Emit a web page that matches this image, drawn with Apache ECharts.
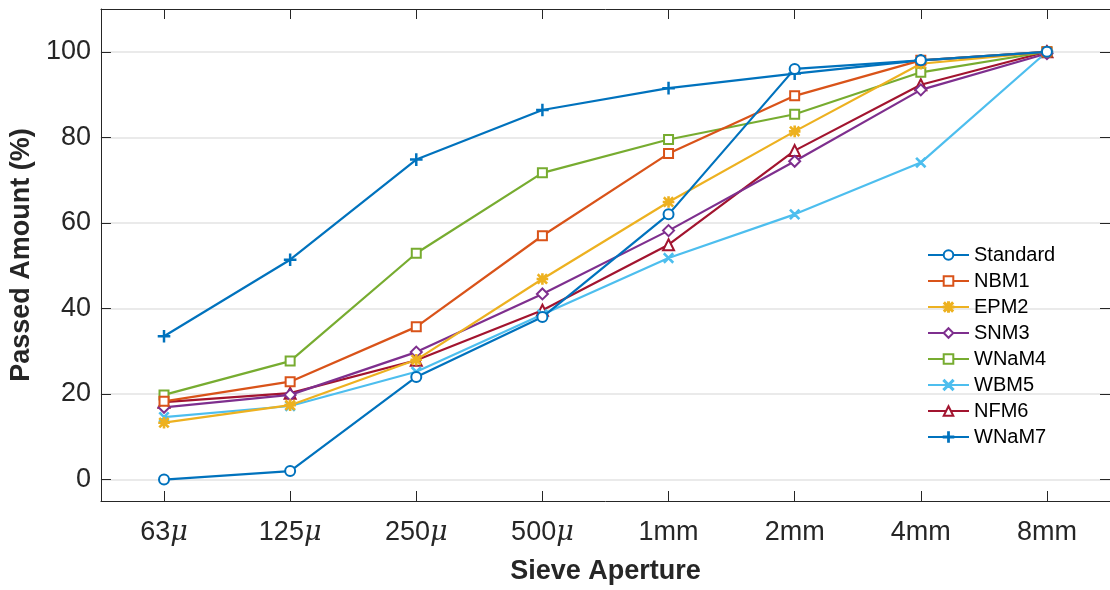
<!DOCTYPE html>
<html>
<head>
<meta charset="utf-8">
<script src="https://cdn.jsdelivr.net/npm/echarts@6/dist/echarts.min.js"></script>
<style>
html,body{margin:0;padding:0;background:#fff;}
#chart{width:1110px;height:590px;}
</style>
</head>
<body>
<div id="chart"></div>
<script>
// ---- data ----
var categories = ['63μ', '125μ', '250μ', '500μ', '1mm', '2mm', '4mm', '8mm'];
var yTicks = [0, 20, 40, 60, 80, 100];
var standard = [0, 2, 24, 38, 62, 96, 98, 100];
var nbm1 = [18.3, 22.9, 35.7, 57, 76.2, 89.7, 98, 100];
var epm2 = [13.3, 17.4, 28, 46.9, 64.9, 81.4, 97.2, 100];
var snm3 = [16.9, 19.8, 29.8, 43.4, 58.2, 74.4, 91.1, 99.6];
var wnam4 = [19.8, 27.7, 52.9, 71.7, 79.5, 85.4, 95.2, 100];
var wbm5 = [14.6, 17.2, 25.2, 38.6, 51.8, 62, 74.1, 100];
var nfm6 = [18.1, 20.2, 27.9, 39.6, 54.9, 76.9, 92.3, 100];
var wnam7 = [33.5, 51.4, 74.8, 86.4, 91.5, 94.9, 98, 100];
var seriesNames = ['Standard', 'NBM1', 'EPM2', 'SNM3', 'WNaM4', 'WBM5', 'NFM6', 'WNaM7'];

// ---- styling ----
var colors = ['#0072BD', '#D95319', '#EDB120', '#7E2F8E', '#77AC30', '#4DBEEE', '#A2142F', '#0072BD'];
var d = 1.6;
var plusPath = 'path://M9.2,0H10.8V9.2H20V10.8H10.8V20H9.2V10.8H0V9.2H9.2Z';
var xPath = 'path://M' + d + ',0L20,' + (20 - d) + 'L' + (20 - d) + ',20L0,' + d + 'Z' +
            'M' + (20 - d) + ',0L20,' + d + 'L' + d + ',20L0,' + (20 - d) + 'Z';
var starPath = 'path://M9,0H11V9H20V11H11V20H9V11H0V9H9Z' +
            'M2.5,1L19,17.5L17.5,19L1,2.5Z' +
            'M17.5,1L19,2.5L2.5,19L1,17.5Z';
var symbols = ['emptyCircle', 'emptyRect', starPath, 'emptyDiamond', 'emptyRect', xPath, 'emptyTriangle', plusPath];
var symbolSizes = [10, 9, 10, 11, 9, 9, 11, 11];
var dataArrays = [standard, nbm1, epm2, snm3, wnam4, wbm5, nfm6, wnam7];
var font = "'Liberation Sans', Arial, Helvetica, sans-serif";
var axisColor = '#262626';

var series = seriesNames.map(function (name, i) {
  return {
    name: name,
    type: 'line',
    data: dataArrays[i],
    symbol: symbols[i],
    symbolSize: symbolSizes[i],
    showAllSymbol: true,
    lineStyle: { color: colors[i], width: 2.2 },
    itemStyle: { color: colors[i], borderColor: colors[i], borderWidth: 1.6 },
    emphasis: { disabled: true },
    z: 10 - i
  };
});

var chart = echarts.init(document.getElementById('chart'), null, { renderer: 'canvas' });
chart.setOption({
  animation: false,
  backgroundColor: '#fff',
  color: colors,
  textStyle: { fontFamily: font },
  grid: { left: 99, top: 9, width: 1018, height: 500, containLabel: false },
  legend: {
    orient: 'vertical',
    left: 927,
    top: 245,
    padding: 0,
    itemWidth: 41,
    itemHeight: 12,
    itemGap: 6,
    backgroundColor: 'transparent',
    textStyle: { fontSize: 20, color: '#000', fontFamily: font },
    data: seriesNames
  },
  xAxis: [{
    type: 'category',
    data: categories,
    position: 'bottom',
    boundaryGap: true,
    name: 'Sieve Aperture',
    nameLocation: 'middle',
    nameGap: 57,
    nameTextStyle: { fontSize: 27, fontWeight: 'bold', color: axisColor, fontFamily: font },
    axisLine: { show: true, onZero: false, lineStyle: { color: axisColor, width: 1 } },
    axisTick: { show: true, inside: true, length: 10, alignWithLabel: true, lineStyle: { color: axisColor } },
    axisLabel: {
      interval: 0,
      fontSize: 27, color: axisColor, margin: 18, fontFamily: font,
      formatter: function (v) { return v.replace('μ', '{mu|μ}'); },
      rich: { mu: { fontSize: 27, fontStyle: 'italic', fontFamily: "'DejaVu Serif', 'Liberation Serif', serif", color: axisColor } }
    },
    splitLine: { show: false }
  }, {
    type: 'category',
    data: categories,
    position: 'top',
    boundaryGap: true,
    axisLine: { show: true, onZero: false, lineStyle: { color: axisColor, width: 1 } },
    axisTick: { show: true, inside: true, length: 10, alignWithLabel: true, lineStyle: { color: axisColor } },
    axisLabel: { show: false },
    splitLine: { show: false }
  }],
  yAxis: [{
    type: 'value',
    min: -5,
    max: 110,
    position: 'left',
    name: 'Passed Amount (%)',
    nameLocation: 'middle',
    nameGap: 56,
    nameTextStyle: { fontSize: 27, fontWeight: 'bold', color: axisColor, fontFamily: font },
    axisLine: { show: true, onZero: false, lineStyle: { color: axisColor, width: 1 } },
    axisTick: { show: true, inside: true, length: 10, customValues: yTicks, lineStyle: { color: axisColor } },
    axisLabel: { fontSize: 27, color: axisColor, margin: 10, customValues: yTicks, fontFamily: font },
    splitLine: { show: true, lineStyle: { color: '#e3e3e3', width: 1.5 } }
  }, {
    type: 'value',
    min: -5,
    max: 110,
    position: 'right',
    axisLine: { show: true, onZero: false, lineStyle: { color: axisColor, width: 1 } },
    axisTick: { show: true, inside: true, length: 10, customValues: yTicks, lineStyle: { color: axisColor } },
    axisLabel: { show: false },
    splitLine: { show: false }
  }],
  series: series
});
</script>
</body>
</html>
